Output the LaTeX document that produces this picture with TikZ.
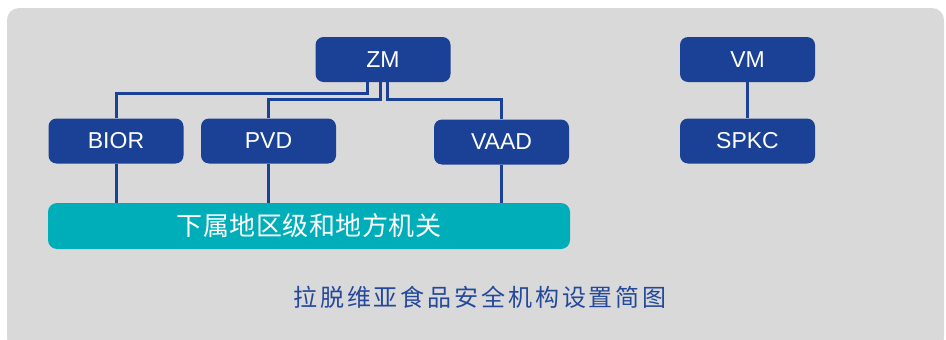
\documentclass[tikz,border=0pt]{standalone}
\usepackage{fontspec}
\setmainfont{Liberation Sans}
\newfontfamily\cjk[LetterSpace=2]{Noto Sans CJK SC}
\newfontfamily\cjktitle[LetterSpace=12]{Noto Sans CJK SC}
\usetikzlibrary{calc}
\definecolor{bggray}{HTML}{D9D9D9}
\definecolor{nodeblue}{HTML}{1A4195}
\definecolor{tealbar}{HTML}{00AEBA}
\definecolor{titleblue}{HTML}{24489C}
\begin{document}
\begin{tikzpicture}[x=1pt,y=-1pt,
  orgbox/.style={rectangle, rounded corners=8pt, fill=nodeblue, draw=none,
    minimum width=135pt, minimum height=45pt, inner sep=0pt, text=white,
    font=\fontsize{23}{25}\selectfont},
  barbox/.style={rectangle, rounded corners=9pt, fill=tealbar, draw=none,
    minimum width=522pt, minimum height=46pt, inner sep=0pt, text=white,
    font=\cjk\fontsize{26}{28}\selectfont},
  link/.style={draw=nodeblue, line width=3pt}]
\useasboundingbox (0,0) rectangle (946,340);
\fill[bggray, rounded corners=12pt] (7,8) rectangle (944,350);

\node[orgbox] (ZM) at (383,59.5) {ZM};
\node[orgbox] (BIOR) at (116,141) {BIOR};
\node[orgbox] (PVD) at (268.5,141) {PVD};
\node[orgbox] (VAAD) at (501.5,142) {VAAD};
\node[orgbox] (VM) at (747.5,59.5) {VM};
\node[orgbox] (SPKC) at (747.5,141) {SPKC};
\node[barbox] (bar) at (309,226) {下属地区级和地方机关};
\node[text=titleblue, font=\cjktitle\fontsize{24}{28}\selectfont] (title) at (480,297.5) {拉脱维亚食品安全机构设置简图};

\draw[link] ([xshift=-16pt]ZM.south) -- ++(0,-11pt) -| (BIOR.north);
\draw[link] ([xshift=-3pt]ZM.south) -- ++(0,-17pt) -| (PVD.north);
\draw[link] ([xshift=4pt]ZM.south) -- ++(0,-17pt) -| (VAAD.north);
\draw[link] (BIOR.south) -- (BIOR.south |- bar.north);
\draw[link] (PVD.south) -- (PVD.south |- bar.north);
\draw[link] (VAAD.south) -- (VAAD.south |- bar.north);
\draw[link] (VM.south) -- (SPKC.north);
\end{tikzpicture}
\end{document}
